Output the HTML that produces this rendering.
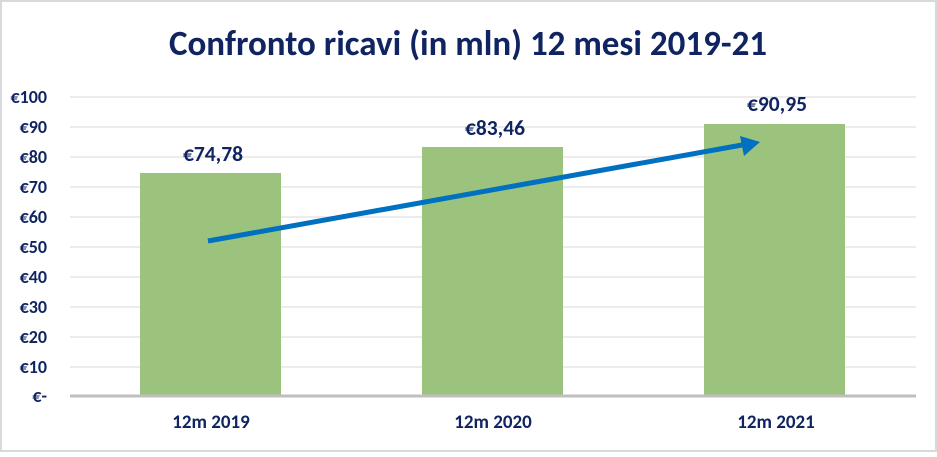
<!DOCTYPE html><html><head><style>body{margin:0;background:#fff}</style></head><body>
<svg width="937" height="452" xmlns="http://www.w3.org/2000/svg" font-family="Calibri, 'Liberation Sans', sans-serif" font-weight="bold">
<rect x="1" y="1" width="935" height="450" fill="#fff" stroke="#d9d9d9" stroke-width="2"/>
<text x="468" y="55" text-anchor="middle" font-size="35" fill="#0f2461">Confronto ricavi (in mln) 12 mesi 2019-21</text>
<g stroke="#ececec" stroke-width="2">
<line x1="70" x2="916" y1="97" y2="97"/><line x1="70" x2="916" y1="127" y2="127"/><line x1="70" x2="916" y1="157" y2="157"/><line x1="70" x2="916" y1="187" y2="187"/><line x1="70" x2="916" y1="217" y2="217"/><line x1="70" x2="916" y1="247" y2="247"/><line x1="70" x2="916" y1="277" y2="277"/><line x1="70" x2="916" y1="307" y2="307"/><line x1="70" x2="916" y1="337" y2="337"/><line x1="70" x2="916" y1="367" y2="367"/>
</g>
<g fill="#9bc37d"><rect x="140" y="173" width="141" height="223"/><rect x="422" y="147" width="141" height="249"/><rect x="704" y="124" width="141" height="272"/></g>
<line x1="70" x2="916" y1="396" y2="396" stroke="#bfbfbf" stroke-width="3"/>
<g fill="#0f2461" font-size="18" text-anchor="end">
<text x="47" y="103">€100</text><text x="47" y="133">€90</text><text x="47" y="163">€80</text><text x="47" y="193">€70</text><text x="47" y="223">€60</text><text x="47" y="253">€50</text><text x="47" y="283">€40</text><text x="47" y="313">€30</text><text x="47" y="343">€20</text><text x="47" y="373">€10</text><text x="47" y="402">€-</text>
</g>
<g fill="#0f2461" font-size="19" text-anchor="middle"><text x="211" y="428">12m 2019</text><text x="493" y="428">12m 2020</text><text x="776" y="428">12m 2021</text></g>
<g fill="#0f2461" font-size="21.5" text-anchor="middle"><text x="213" y="161">€74,78</text><text x="495" y="135">€83,46</text><text x="777" y="111">€90,95</text></g>
<line x1="208" y1="241" x2="742" y2="145" stroke="#0070c0" stroke-width="5"/>
<polygon points="760,142 740,136 744,156" fill="#0070c0"/>
</svg></body></html>
